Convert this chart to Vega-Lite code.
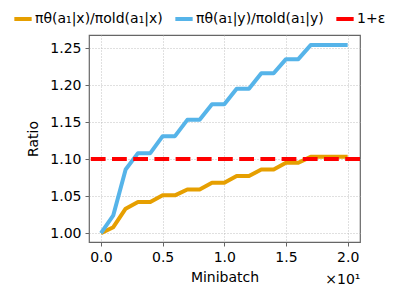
{
  "$schema": "https://vega.github.io/schema/vega-lite/v6.json",
  "autosize": "none",
  "width": 271,
  "height": 207,
  "padding": {"left": 89, "top": 35, "right": 47, "bottom": 50},
  "background": "white",
  "config": {
    "font": "DejaVu Sans",
    "view": {"stroke": "#666", "strokeWidth": 1.2},
    "legend": {"padding": 0},
    "axis": {
      "labelFont": "DejaVu Sans",
      "titleFont": "DejaVu Sans",
      "labelFontSize": 14,
      "titleFontSize": 14,
      "titleFontWeight": "normal",
      "labelColor": "black",
      "titleColor": "black",
      "domain": false,
      "tickColor": "#666",
      "tickSize": 4,
      "labelPadding": 4,
      "gridColor": "#b0b0b0",
      "gridDash": [1, 2],
      "gridWidth": 0.8
    }
  },
  "datasets": {
    "ratios": [
      {"minibatch": 0, "series": "πθ(a₁|x)/πold(a₁|x)", "ratio": 1.000},
      {"minibatch": 1, "series": "πθ(a₁|x)/πold(a₁|x)", "ratio": 1.008},
      {"minibatch": 2, "series": "πθ(a₁|x)/πold(a₁|x)", "ratio": 1.033},
      {"minibatch": 3, "series": "πθ(a₁|x)/πold(a₁|x)", "ratio": 1.042},
      {"minibatch": 4, "series": "πθ(a₁|x)/πold(a₁|x)", "ratio": 1.042},
      {"minibatch": 5, "series": "πθ(a₁|x)/πold(a₁|x)", "ratio": 1.051},
      {"minibatch": 6, "series": "πθ(a₁|x)/πold(a₁|x)", "ratio": 1.051},
      {"minibatch": 7, "series": "πθ(a₁|x)/πold(a₁|x)", "ratio": 1.059},
      {"minibatch": 8, "series": "πθ(a₁|x)/πold(a₁|x)", "ratio": 1.059},
      {"minibatch": 9, "series": "πθ(a₁|x)/πold(a₁|x)", "ratio": 1.068},
      {"minibatch": 10, "series": "πθ(a₁|x)/πold(a₁|x)", "ratio": 1.068},
      {"minibatch": 11, "series": "πθ(a₁|x)/πold(a₁|x)", "ratio": 1.077},
      {"minibatch": 12, "series": "πθ(a₁|x)/πold(a₁|x)", "ratio": 1.077},
      {"minibatch": 13, "series": "πθ(a₁|x)/πold(a₁|x)", "ratio": 1.086},
      {"minibatch": 14, "series": "πθ(a₁|x)/πold(a₁|x)", "ratio": 1.086},
      {"minibatch": 15, "series": "πθ(a₁|x)/πold(a₁|x)", "ratio": 1.095},
      {"minibatch": 16, "series": "πθ(a₁|x)/πold(a₁|x)", "ratio": 1.095},
      {"minibatch": 17, "series": "πθ(a₁|x)/πold(a₁|x)", "ratio": 1.103},
      {"minibatch": 18, "series": "πθ(a₁|x)/πold(a₁|x)", "ratio": 1.103},
      {"minibatch": 19, "series": "πθ(a₁|x)/πold(a₁|x)", "ratio": 1.103},
      {"minibatch": 20, "series": "πθ(a₁|x)/πold(a₁|x)", "ratio": 1.103},
      {"minibatch": 0, "series": "πθ(a₁|y)/πold(a₁|y)", "ratio": 1.000},
      {"minibatch": 1, "series": "πθ(a₁|y)/πold(a₁|y)", "ratio": 1.024},
      {"minibatch": 2, "series": "πθ(a₁|y)/πold(a₁|y)", "ratio": 1.086},
      {"minibatch": 3, "series": "πθ(a₁|y)/πold(a₁|y)", "ratio": 1.108},
      {"minibatch": 4, "series": "πθ(a₁|y)/πold(a₁|y)", "ratio": 1.108},
      {"minibatch": 5, "series": "πθ(a₁|y)/πold(a₁|y)", "ratio": 1.131},
      {"minibatch": 6, "series": "πθ(a₁|y)/πold(a₁|y)", "ratio": 1.131},
      {"minibatch": 7, "series": "πθ(a₁|y)/πold(a₁|y)", "ratio": 1.153},
      {"minibatch": 8, "series": "πθ(a₁|y)/πold(a₁|y)", "ratio": 1.153},
      {"minibatch": 9, "series": "πθ(a₁|y)/πold(a₁|y)", "ratio": 1.174},
      {"minibatch": 10, "series": "πθ(a₁|y)/πold(a₁|y)", "ratio": 1.174},
      {"minibatch": 11, "series": "πθ(a₁|y)/πold(a₁|y)", "ratio": 1.195},
      {"minibatch": 12, "series": "πθ(a₁|y)/πold(a₁|y)", "ratio": 1.195},
      {"minibatch": 13, "series": "πθ(a₁|y)/πold(a₁|y)", "ratio": 1.216},
      {"minibatch": 14, "series": "πθ(a₁|y)/πold(a₁|y)", "ratio": 1.216},
      {"minibatch": 15, "series": "πθ(a₁|y)/πold(a₁|y)", "ratio": 1.235},
      {"minibatch": 16, "series": "πθ(a₁|y)/πold(a₁|y)", "ratio": 1.235},
      {"minibatch": 17, "series": "πθ(a₁|y)/πold(a₁|y)", "ratio": 1.254},
      {"minibatch": 18, "series": "πθ(a₁|y)/πold(a₁|y)", "ratio": 1.254},
      {"minibatch": 19, "series": "πθ(a₁|y)/πold(a₁|y)", "ratio": 1.254},
      {"minibatch": 20, "series": "πθ(a₁|y)/πold(a₁|y)", "ratio": 1.254}
    ],
    "threshold": [{"label": "1+ε", "ratio": 1.1}]
  },
  "layer": [
    {
      "data": {"name": "ratios"},
      "transform": [{"filter": "datum.series === 'πθ(a₁|x)/πold(a₁|x)'"}],
      "mark": {"type": "line", "strokeWidth": 4, "strokeJoin": "round", "strokeCap": "butt"},
      "encoding": {
        "x": {
          "field": "minibatch", "type": "quantitative",
          "scale": {"domain": [-0.97, 21], "nice": false, "zero": false},
          "axis": {
            "title": "Minibatch",
            "values": [0, 5, 10, 15, 20],
            "labelExpr": "format(datum.value / 10, '.1f')",
            "titlePadding": 6
          }
        },
        "y": {
          "field": "ratio", "type": "quantitative",
          "scale": {"domain": [0.988, 1.2676], "nice": false, "zero": false},
          "axis": {
            "title": "Ratio",
            "values": [1.0, 1.05, 1.1, 1.15, 1.2, 1.25],
            "format": ".2f",
            "titlePadding": 9
          }
        },
        "color": {
          "field": "series", "type": "nominal",
          "scale": {
            "domain": ["πθ(a₁|x)/πold(a₁|x)", "πθ(a₁|y)/πold(a₁|y)", "1+ε"],
            "range": ["#E69F00", "#56B4E9", "#FF0000"]
          },
          "legend": {
            "title": null,
            "orient": "none",
            "legendX": -77,
            "legendY": -27,
            "direction": "horizontal",
            "symbolType": "stroke",
            "symbolStrokeWidth": 4,
            "symbolSize": 300,
            "labelFontSize": 14,
            "labelFont": "DejaVu Sans",
            "labelColor": "black",
            "labelOffset": 1,
            "columnPadding": 4
          }
        }
      }
    },
    {
      "data": {"name": "ratios"},
      "transform": [{"filter": "datum.series === 'πθ(a₁|y)/πold(a₁|y)'"}],
      "mark": {"type": "line", "strokeWidth": 4, "strokeJoin": "round", "strokeCap": "butt"},
      "encoding": {
        "x": {
          "field": "minibatch", "type": "quantitative",
          "axis": {
            "title": "×10¹",
            "orient": "bottom",
            "titleAnchor": "end",
            "domain": false,
            "ticks": false,
            "labels": false,
            "grid": false,
            "titlePadding": 4,
            "titleY": 30
          }
        },
        "y": {"field": "ratio", "type": "quantitative"},
        "color": {"field": "series", "type": "nominal"}
      }
    },
    {
      "data": {"name": "threshold"},
      "mark": {"type": "rule", "strokeWidth": 4, "strokeDash": [14.8, 6.4]},
      "encoding": {
        "y": {"field": "ratio", "type": "quantitative"},
        "color": {"field": "label", "type": "nominal"}
      }
    }
  ],
  "resolve": {"axis": {"x": "independent"}}
}
